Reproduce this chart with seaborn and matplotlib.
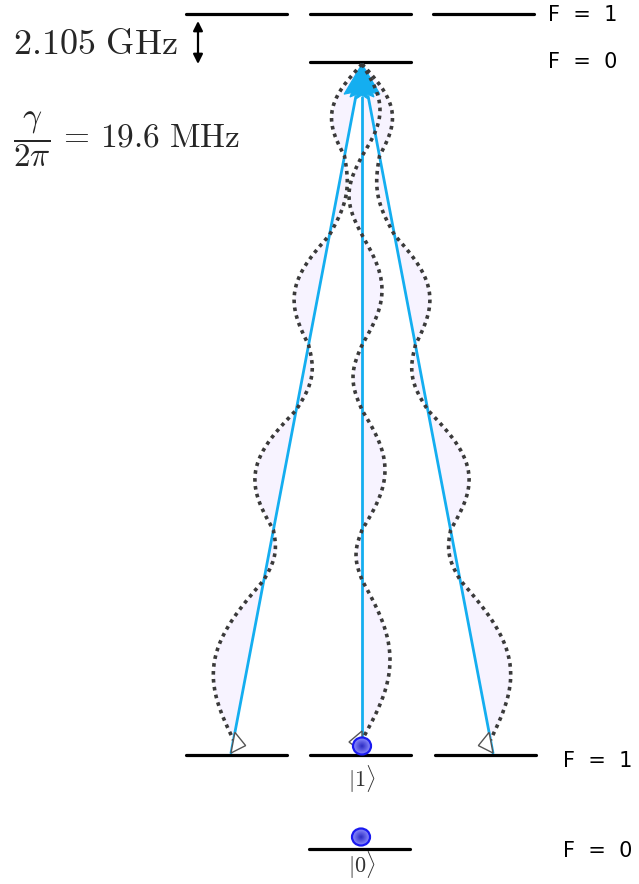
import numpy as np
import pandas as pd
import matplotlib
matplotlib.use("Agg")
import matplotlib.pyplot as plt
from matplotlib.patches import Polygon, Ellipse
import seaborn as sns

# ---------------- diagram data (canvas units, y grows downward) ----------------
upper_F1_y = 14
upper_F0_y = 62
lower_F1_y = 755
lower_F0_y = 849

upper_F1_x = [186, 310, 433]
upper_F0_x = [310]
lower_F1_x = [186, 310, 435]
lower_F0_x = [309]
level_width = 101

level_labels = ["F = 1", "F = 0", "F = 1", "F = 0"]
level_label_x = [548, 548, 563, 563]
level_label_y = [15, 62, 761, 851]

# decay channels: from lower F=1 sublevels up to the excited F=0 state
excited_x, excited_y = 362, 64
decay_start_x = [231, 362, 493]
decay_start_y = [753, 752, 753]

# photon wave packets: node heights and signed lobe amplitudes (+ = right)
wave_nodes = [64, 156, 235, 345, 410, 530, 580, 740]
wave_amp_left = [-21, 9, -24, 9, -29, 6, -34]
wave_amp_center = [18, -13, 20, -9, 23, -6, 28]
wave_amp_right = [21, -9, 24, -9, 29, -6, 34]
wave_amps = [wave_amp_left, wave_amp_center, wave_amp_right]

# qubit population markers
dot_x = [362, 361]
dot_y = [746, 837]
ket_labels = [r"$|1\rangle$", r"$|0\rangle$"]
ket_y = [779, 865]

splitting_text = r"$2.105\ \mathrm{GHz}$"
linewidth_text = r"$\dfrac{\gamma}{2\pi}\,=\,19.6\ \mathrm{MHz}$"

# ---------------- styling ----------------
sns.set_theme(style="white")
plt.rcParams["mathtext.fontset"] = "cm"
plt.rcParams["font.family"] = ["DejaVu Sans"]

BLUE = "#14aef0"
DOT_GREY = "#3a3a3a"
LAVENDER = "#f7f3ff"

W, H = 639, 884
fig = plt.figure(figsize=(W / 100, H / 100), dpi=100)
ax = fig.add_axes([0, 0, 1, 1])
ax.set_xlim(0, W)
ax.set_ylim(H, 0)
ax.axis("off")

# ---------------- energy levels ----------------
rows = []
seg = 0
for xs, y in [(upper_F1_x, upper_F1_y), (upper_F0_x, upper_F0_y),
              (lower_F1_x, lower_F1_y), (lower_F0_x, lower_F0_y)]:
    for x0 in xs:
        rows.append({"x": x0, "y": y, "seg": seg})
        rows.append({"x": x0 + level_width, "y": y, "seg": seg})
        seg += 1
levels = pd.DataFrame(rows)
sns.lineplot(data=levels, x="x", y="y", units="seg", estimator=None, sort=False,
             color="black", linewidth=2.3, ax=ax, zorder=3)

for txt, lx, ly in zip(level_labels, level_label_x, level_label_y):
    ax.text(lx, ly, txt.replace(" ", "  "), fontsize=15, ha="left", va="center",
            color="black")

# ---------------- decay arrows with wave packets ----------------
for sx, sy, amps in zip(decay_start_x, decay_start_y, wave_amps):
    dx, dy = excited_x - sx, excited_y - sy
    length = np.hypot(dx, dy)
    u = np.array([dx, dy]) / length
    perp = np.array([-u[1], u[0]])  # points to the right on screen

    def line_x(y):
        return sx + (y - sy) * dx / dy

    # wave packet built lobe by lobe
    ys, offs = [], []
    for (y0, y1), a in zip(zip(wave_nodes[:-1], wave_nodes[1:]), amps):
        yy = np.linspace(y0, y1, 60)
        ys.append(yy)
        offs.append(a * np.sin(np.pi * (yy - y0) / (y1 - y0)))
    ys = np.concatenate(ys)
    offs = np.concatenate(offs)
    xl = line_x(ys)
    ax.fill_betweenx(ys, xl, xl + offs, color=LAVENDER, lw=0, zorder=1)
    wave = pd.DataFrame({"x": xl + offs, "y": ys})
    sns.lineplot(data=wave, x="x", y="y", sort=False, estimator=None, ax=ax,
                 color=DOT_GREY, linewidth=2.6, linestyle=(0, (1, 1.2)),
                 dash_capstyle="butt", zorder=4)

    # arrow shaft
    head_len, head_half = 33, 12
    tip = np.array([excited_x, excited_y])
    base = tip - head_len * u
    shaft = pd.DataFrame({"x": [sx, base[0]], "y": [sy, base[1]]})
    sns.lineplot(data=shaft, x="x", y="y", sort=False, estimator=None, ax=ax,
                 color=BLUE, linewidth=2.0, zorder=2)
    notch = tip - 0.85 * head_len * u
    head = Polygon([tip, base + head_half * perp, notch, base - head_half * perp],
                   closed=True, facecolor=BLUE, edgecolor=BLUE, lw=0.8, zorder=3)
    ax.add_patch(head)

    # open tail marker at the start of each channel
    side = -np.sign(amps[-1])
    start = np.array([sx, sy])
    tail = Polygon([start, start + 21 * u, start + 10 * u + side * 13 * perp],
                   closed=True, facecolor="white", edgecolor="#555555", lw=1.0,
                   zorder=5)
    ax.add_patch(tail)

# ---------------- qubit population dots ----------------
for cx, cy in zip(dot_x, dot_y):
    n = 12
    outer = np.array([0.55, 0.55, 1.0])
    inner = np.array([0.15, 0.15, 0.75])
    for i in range(n):
        f = 1 - i / n
        c = inner + (outer - inner) * f
        ax.add_patch(Ellipse((cx, cy), 18 * f, 17 * f, facecolor=c,
                             edgecolor="none", zorder=6))
    ax.add_patch(Ellipse((cx, cy), 18, 17, facecolor="none",
                         edgecolor="#1a1af0", lw=1.6, zorder=7))

for k, ky in zip(ket_labels, ket_y):
    ax.text(362, ky, k, fontsize=16, ha="center", va="center", color="#333333")

# ---------------- annotations ----------------
ax.annotate("", xy=(198, 21), xytext=(198, 64),
            arrowprops=dict(arrowstyle="<|-|>", color="black", lw=1.6,
                            mutation_scale=14, shrinkA=0, shrinkB=0))
ax.text(13, 44, splitting_text, fontsize=26, ha="left", va="center")
ax.text(13, 139, linewidth_text, fontsize=24, ha="left", va="center")

fig.savefig("out.png", dpi=100)
